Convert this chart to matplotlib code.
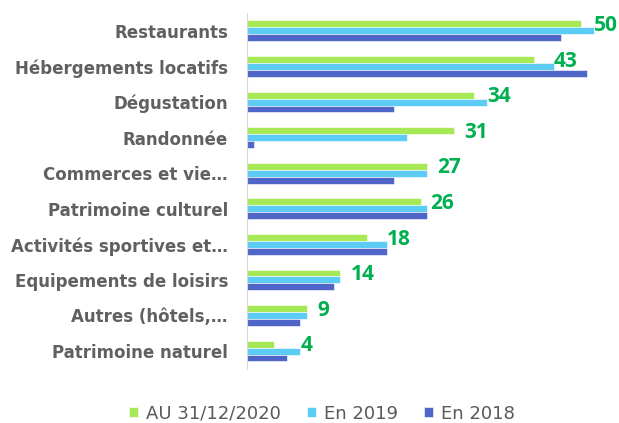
import numpy as np
import matplotlib
matplotlib.use("Agg")
import matplotlib.pyplot as plt

plt.rcParams['font.family'] = ['DejaVu Sans']

# données
categories = ["Restaurants", "Hébergements locatifs", "Dégustation", "Randonnée",
              "Commerces et vie…", "Patrimoine culturel", "Activités sportives et…",
              "Equipements de loisirs", "Autres (hôtels,…", "Patrimoine naturel"]
au_2020 = [50, 43, 34, 31, 27, 26, 18, 14, 9, 4]
en_2019 = [52, 46, 36, 24, 27, 27, 21, 14, 9, 8]
en_2018 = [47, 51, 22, 1, 22, 27, 21, 13, 8, 6]

series = [("AU 31/12/2020", au_2020, "#A6E855"),
          ("En 2019", en_2019, "#5DCCF5"),
          ("En 2018", en_2018, "#4F66C8")]

fig = plt.figure(figsize=(6.19, 4.23), dpi=100)
ax = fig.add_axes([0.399, 0.128, 0.593, 0.841])

y = np.arange(len(categories))
h = 0.195
for i, (name, vals, col) in enumerate(series):
    ax.barh(y + (i - 1) * h, vals, height=h, color=col, label=name,
            edgecolor="white", linewidth=0.4)

# étiquettes de valeur (série 2020)
for yi, g, b in zip(y, au_2020, en_2019):
    ax.text(max(g + 1.5, b), yi - 0.15, str(g), color="#00B050",
            fontsize=15, fontweight="bold", va="center", ha="left",
            family="Open Sans")

ax.set_xlim(0, 55)
ax.set_ylim(len(categories) - 0.5, -0.5)
ax.set_yticks(y)
ax.set_yticklabels(categories, fontsize=12, fontweight="bold", color="#606060")
ax.tick_params(axis="y", length=0, pad=13.7)
ax.set_xticks([])
for s in ["top", "right", "bottom"]:
    ax.spines[s].set_visible(False)
ax.spines["left"].set_color("#D9D9D9")

fig.legend(loc="center", bbox_to_anchor=(0.52, 0.022), ncol=3, frameon=False,
           fontsize=13, labelcolor="#595959", handlelength=0.5, handleheight=0.5,
           handletextpad=0.45, columnspacing=1.45)

fig.savefig("out.png", dpi=100)
